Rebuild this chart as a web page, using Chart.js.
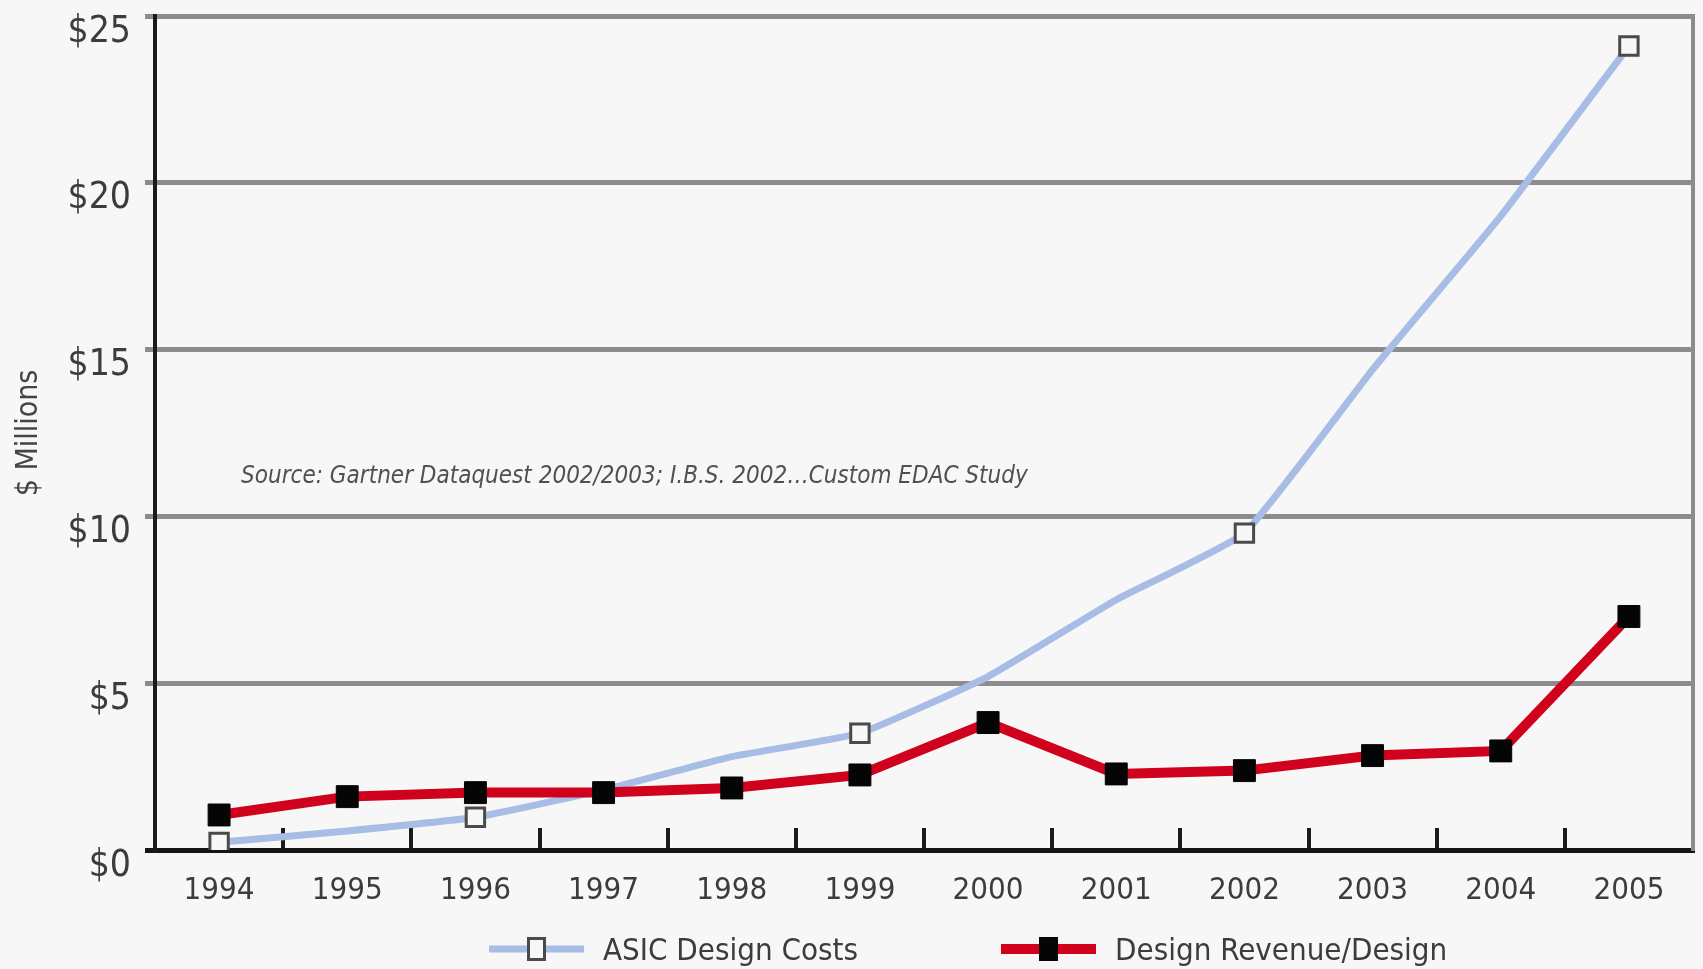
<!DOCTYPE html>
<html>
<head>
<meta charset="utf-8">
<script src="https://cdn.jsdelivr.net/npm/chart.js@4/dist/chart.umd.min.js"></script>
<style>
  html, body { margin: 0; padding: 0; background: #f7f7f7; overflow: hidden; }
  #wrap { position: relative; width: 1703px; height: 969px; }
  #legend { position: absolute; left: 489px; top: 931px; display: flex; align-items: center;
            font-family: 'Liberation Sans Narrow', 'DejaVu Sans Condensed', 'Liberation Sans', sans-serif;
            font-size: 31px; color: #3c3c3c; white-space: nowrap; }
  #legend .item { display: flex; align-items: center; width: 512px; }
  #legend canvas { margin-right: 19px; }
</style>
</head>
<body>
<div id="wrap">
  <canvas id="costChart"></canvas>
  <div id="legend"></div>
</div>
<script>
// values ($ millions)
const years = ['1994', '1995', '1996', '1997', '1998', '1999', '2000', '2001', '2002', '2003', '2004', '2005'];
const asicDesignCosts = [0.23, 0.57, 0.98, 1.8, 2.8, 3.5, 5.2, 7.5, 9.5, 14.4, 19.0, 24.1];
const asicMarkedYears = ['1994', '1996', '1999', '2002', '2005'];
const revenuePerDesign = [1.05, 1.6, 1.72, 1.72, 1.86, 2.25, 3.82, 2.28, 2.38, 2.83, 2.97, 7.0];
const yTicks = [0, 5, 10, 15, 20, 25];
const sourceNote = 'Source: Gartner Dataquest 2002/2003; I.B.S. 2002\u2026Custom EDAC Study';

const narrow = "'Liberation Sans Narrow', 'DejaVu Sans Condensed', 'Liberation Sans', sans-serif";
const textColor = '#3c3c3c';
const gridGray = '#8c8c8c';

// source line written inside the plot
const sourceNotePlugin = {
  id: 'sourceNote',
  afterDatasetsDraw(chart) {
    const { ctx, scales } = chart;
    ctx.save();
    ctx.font = 'italic 24px ' + narrow;
    ctx.fillStyle = '#505050';
    ctx.textBaseline = 'middle';
    ctx.fillText(sourceNote, scales.x.getPixelForValue(0) + 22, scales.y.getPixelForValue(11.2));
    ctx.restore();
  }
};

// legend below the chart, with line + marker samples
const htmlLegend = {
  id: 'htmlLegend',
  afterUpdate(chart) {
    const box = document.getElementById('legend');
    box.innerHTML = '';
    chart.data.datasets.forEach(ds => {
      const item = document.createElement('div');
      item.className = 'item';
      const sample = document.createElement('canvas');
      sample.width = 95;
      sample.height = 30;
      const g = sample.getContext('2d');
      g.strokeStyle = ds.borderColor;
      g.lineWidth = ds.borderWidth;
      g.beginPath();
      g.moveTo(0, 15);
      g.lineTo(95, 15);
      g.stroke();
      const w = 16, h = 21;
      g.fillStyle = ds.pointBackgroundColor;
      g.fillRect(47.5 - w / 2, 15 - h / 2, w, h);
      g.strokeStyle = ds.pointBorderColor;
      g.lineWidth = 3;
      g.strokeRect(47.5 - w / 2, 15 - h / 2, w, h);
      const label = document.createElement('span');
      label.textContent = ds.label;
      item.appendChild(sample);
      item.appendChild(label);
      box.appendChild(item);
    });
  }
};

const ctx = document.getElementById('costChart').getContext('2d');

const costChart = new Chart(ctx, {
  type: 'line',
  data: {
    labels: years,
    datasets: [{
      label: 'ASIC Design Costs',
      data: asicDesignCosts,
      borderColor: '#a8bde6',
      borderWidth: 7,
      tension: 0.12,
      pointStyle: 'rect',
      pointRadius: c => asicMarkedYears.includes(years[c.dataIndex]) ? 13 : 0,
      pointBackgroundColor: '#f7f7f7',
      pointBorderColor: '#4a4a4a',
      pointBorderWidth: 3,
      order: 2
    }, {
      label: 'Design Revenue/Design',
      data: revenuePerDesign,
      borderColor: '#d0011d',
      borderWidth: 10,
      tension: 0,
      pointStyle: 'rect',
      pointRadius: 15.5,
      pointBackgroundColor: '#050505',
      pointBorderColor: '#050505',
      pointBorderWidth: 1,
      order: 1
    }]
  },
  options: {
    responsive: true,
    maintainAspectRatio: false,
    animation: false,
    layout: { autoPadding: false, padding: { top: 16, right: 0, bottom: 0, left: 0 } },
    plugins: {
      legend: { display: false },
      tooltip: { enabled: false }
    },
    scales: {
      x: {
        offset: true,
        afterFit: scale => {
          scale.height = 119;
          scale.paddingLeft = 0;
          scale.paddingRight = 0;
        },
        grid: {
          offset: true,
          drawOnChartArea: false,
          tickLength: -22,
          lineWidth: 4,
          color: c => (c.index === 0 || c.index === years.length) ? 'rgba(0,0,0,0)' : '#1a1a1a'
        },
        border: { color: '#151515', width: 5 },
        ticks: {
          padding: 0,
          color: textColor,
          font: { family: narrow, size: 31, lineHeight: 4.05 }
        }
      },
      y: {
        min: 0,
        max: 25,
        afterBuildTicks: scale => { scale.ticks = yTicks.map(v => ({ value: v })); },
        afterFit: scale => { scale.width = 155; },
        grid: {
          color: c => c.tick.value === 0 ? '#151515' : gridGray,
          lineWidth: 5,
          tickLength: 10
        },
        border: { color: '#1a1a1a', width: 4 },
        ticks: {
          padding: 14,
          labelOffset: 16,
          color: textColor,
          font: { family: narrow, size: 37, lineHeight: 0.1 },
          callback: v => '$' + v
        },
        title: {
          display: true,
          text: '$ Millions',
          color: '#444',
          padding: { top: 11, bottom: 0 },
          font: { family: narrow, size: 30 }
        }
      },
      y2: {
        position: 'right',
        min: 0,
        max: 25,
        afterFit: scale => { scale.width = 10; },
        grid: { drawOnChartArea: false, drawTicks: false },
        ticks: { display: false },
        border: { color: gridGray, width: 4 }
      }
    }
  },
  plugins: [sourceNotePlugin, htmlLegend]
});
</script>
</body>
</html>
